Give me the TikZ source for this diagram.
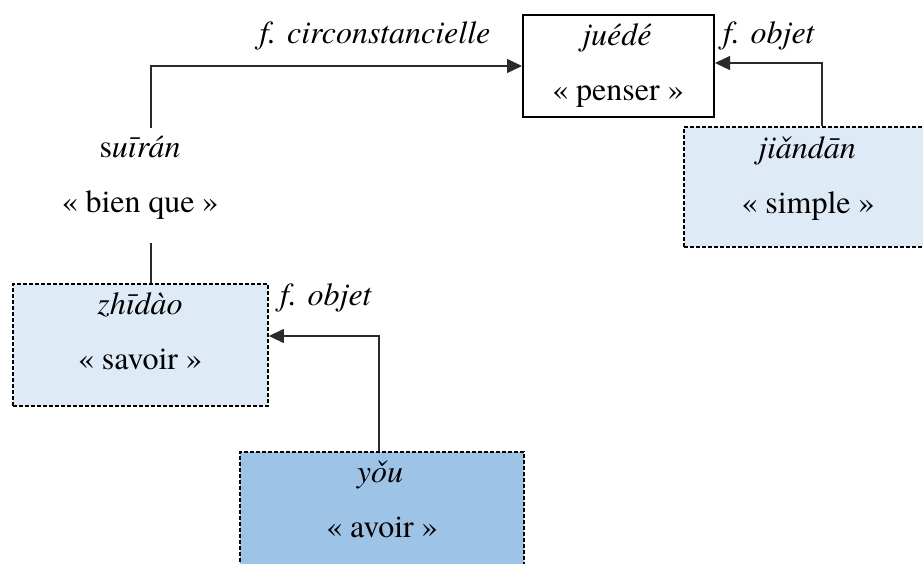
\documentclass[tikz,border=0pt]{standalone}
\usepackage{fontspec}
\setmainfont{texgyretermes}[Extension=.otf, UprightFont=*-regular, ItalicFont=*-italic, BoldFont=*-bold, BoldItalicFont=*-bolditalic]
\usetikzlibrary{arrows.meta}
\definecolor{lightfill}{HTML}{DEEAF6}
\definecolor{midfill}{HTML}{9DC3E6}
\definecolor{conncol}{HTML}{2A2A2A}
\tikzset{
  txt/.style={inner sep=0pt, anchor=base, font=\fontsize{32pt}{38pt}\selectfont},
  solidbox/.style={draw=black, line width=2pt, inner sep=0pt},
  dashbox/.style={draw=black, line width=1.8pt, dash pattern=on 4pt off 2pt, inner sep=0pt},
  conn/.style={draw=conncol, line width=1.3pt},
  arr/.style={conn, -{Triangle[length=15pt,width=14pt]}},
}
\begin{document}
\begin{tikzpicture}[x=1pt,y=-1pt]
\useasboundingbox (0,0) rectangle (923,563);
\clip (0,0) rectangle (923,563);
% boxes
\node[solidbox, minimum width=191pt, minimum height=102pt] (jude) at (618.5,66) {};
\node[dashbox, fill=lightfill, minimum width=251pt, minimum height=120pt] (jian) at (809.5,187) {};
\node[dashbox, fill=lightfill, minimum width=255pt, minimum height=122pt] (zhi) at (140.5,345) {};
\node[dashbox, fill=midfill, minimum width=284pt, minimum height=130pt] (you) at (382,517) {};
% texts
\node[txt] (judeA) at (617,45) {\textit{juédé}};
\node[txt] (judeB) at (618,100) {« penser »};
\node[txt] (jianA) at (807,158) {\textit{jiǎndān}};
\node[txt] (jianB) at (808,213) {« simple »};
\node[txt] (zhiA) at (140,314) {\textit{zhīdào}};
\node[txt] (zhiB) at (140,369) {« savoir »};
\node[txt] (youA) at (380,482) {\textit{yǒu}};
\node[txt] (youB) at (382,537) {« avoir »};
\node[txt] (suiA) at (140,157) {s\textit{uīrán}};
\node[txt] (suiB) at (140,212) {« bien que »};
\node[txt] (lab1) at (375,43) {\textit{f. circonstancielle}};
\node[txt] (lab2) at (769,43) {\textit{f. objet}};
\node[txt] (lab3) at (326,305) {\textit{f. objet}};
% connector anchors
\coordinate (suitop) at (151,128);
\coordinate (suibot) at (151,243);
\coordinate (jiantop) at (822,127);
\coordinate (youtop) at (379,452);
% connectors
\draw[arr] (suitop) |- (jude.west);
\draw[arr] (jian.north -| jiantop) |- ([yshift=3pt]jude.east);
\draw[conn] (suibot) -- (suibot |- zhi.north);
\draw[arr] (you.north -| youtop) |- ([yshift=9pt]zhi.east);
\end{tikzpicture}
\end{document}
